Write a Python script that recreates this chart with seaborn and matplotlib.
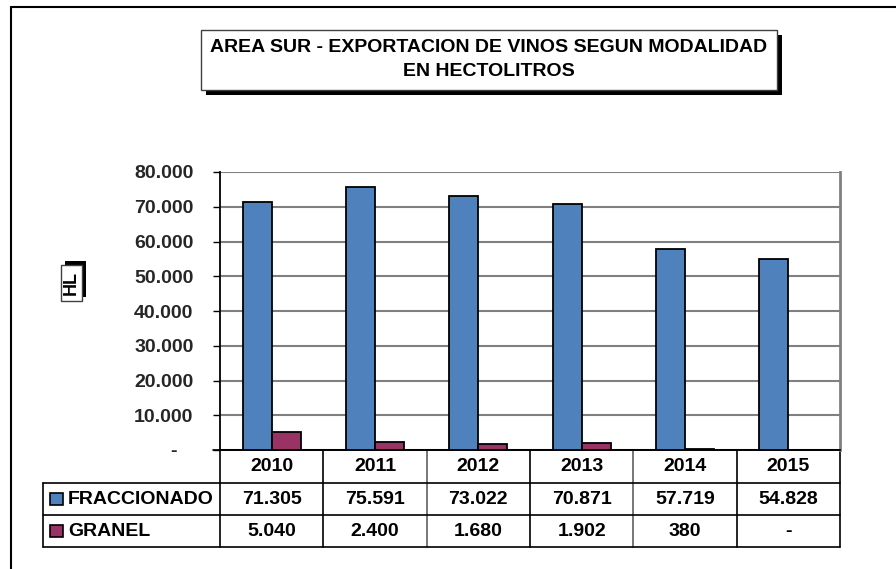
import matplotlib
matplotlib.use("Agg")
import matplotlib.pyplot as plt
import matplotlib.patches as mpatches
from matplotlib.lines import Line2D
from matplotlib.transforms import blended_transform_factory
from matplotlib.ticker import FuncFormatter
import seaborn as sns
import pandas as pd

# ---------------- data ----------------
years = ["2010", "2011", "2012", "2013", "2014", "2015"]
fraccionado = [71305, 75591, 73022, 70871, 57719, 54828]
granel = [5040, 2400, 1680, 1902, 380, 0]
series_names = ["FRACCIONADO", "GRANEL"]
series_colors = ["#4F81BD", "#993366"]
y_ticks = [0, 10000, 20000, 30000, 40000, 50000, 60000, 70000, 80000]
title_lines = ["AREA SUR - EXPORTACION DE VINOS SEGUN MODALIDAD", "EN HECTOLITROS"]
y_label = "HL"


def fmt(v):
    return "-" if v == 0 else f"{v:,.0f}".replace(",", ".")


sns.set_theme(style="white")
plt.rcParams['font.family'] = ['Liberation Sans', 'DejaVu Sans']
plt.rcParams['font.weight'] = 'bold'
FS = 14

W, H = 896, 569
fig = plt.figure(figsize=(W / 100, H / 100), dpi=100)
fig.patch.set_facecolor("white")


def fx(px):
    return px / W


def fy(py):
    return 1 - py / H


# outer frame (left and top edges visible)
fig.add_artist(Line2D([fx(11), fx(11)], [fy(7), 0], transform=fig.transFigure, color="black", lw=1.5))
fig.add_artist(Line2D([fx(11), 1], [fy(7), fy(7)], transform=fig.transFigure, color="black", lw=1.5))

# ---------------- main axes ----------------
ax_left, ax_right, ax_top, ax_bot = 220, 840, 172, 450
ax = fig.add_axes([fx(ax_left), fy(ax_bot), (ax_right - ax_left) / W, (ax_bot - ax_top) / H])

df = pd.DataFrame({
    "year": years * 2,
    "value": fraccionado + granel,
    "serie": [s for s in series_names for _ in years],
})
sns.barplot(data=df, x="year", y="value", hue="serie", palette=series_colors,
            width=0.56, edgecolor="black", linewidth=1.3, saturation=1,
            ax=ax, legend=False, zorder=3)

ax.set_xlim(-0.5, len(years) - 0.5)
ax.set_ylim(0, 80000)
ax.set_yticks(y_ticks)
ax.yaxis.set_major_formatter(FuncFormatter(lambda v, p: "-   " if v == 0 else fmt(v)))
ax.set_xticks([])
ax.set_xlabel("")
ax.set_ylabel("")
ax.yaxis.grid(True, color="#808080", lw=1.5, zorder=0)
ax.set_axisbelow(True)
ax.tick_params(axis="y", which="both", left=True, length=5, width=1, color="black",
               direction="out", labelsize=FS, pad=14)
for lbl in ax.get_yticklabels():
    lbl.set_fontweight("bold")
ax.spines["top"].set_visible(False)
ax.spines["left"].set_color("black")
ax.spines["left"].set_linewidth(1.3)
ax.spines["bottom"].set_color("black")
ax.spines["bottom"].set_linewidth(1.3)
ax.spines["right"].set_color("#808080")
ax.spines["right"].set_linewidth(2)

# ---------------- data table ----------------
trans = blended_transform_factory(ax.transData, ax.transAxes)
hax = ax_bot - ax_top
row_px = [450, 483, 515, 547]
row_fr = [-(p - ax_bot) / hax for p in row_px]
n = len(years)
col_px = (ax_right - ax_left) / n
legend_left = -0.5 + (43 - ax_left) / col_px

line_kw = dict(color="black", lw=1.2, clip_on=False, transform=trans)
for i in range(n + 1):
    ax.add_line(Line2D([i - 0.5, i - 0.5], [row_fr[0], row_fr[3]],
                       color=("#606060" if i in (2, 4) else "black"), lw=1.2,
                       clip_on=False, transform=trans))
ax.add_line(Line2D([-0.5 - 7 / col_px, n - 0.5], [row_fr[0], row_fr[0]], **line_kw))
for r in (1, 2, 3):
    ax.add_line(Line2D([legend_left, n - 0.5], [row_fr[r], row_fr[r]], **line_kw))
ax.add_line(Line2D([legend_left, legend_left], [row_fr[1], row_fr[3]], **line_kw))

mid = [(row_fr[k] + row_fr[k + 1]) / 2 for k in range(3)]
for i, yr in enumerate(years):
    ax.text(i, mid[0], yr, transform=trans, ha="center", va="center",
            fontsize=FS, fontweight="bold", color="black")
    ax.text(i, mid[1], fmt(fraccionado[i]), transform=trans, ha="center", va="center",
            fontsize=FS, fontweight="bold", color="black")
    ax.text(i, mid[2], fmt(granel[i]), transform=trans, ha="center", va="center",
            fontsize=FS, fontweight="bold", color="black")

key_centers = [499, 531]
for name, col, cy in zip(series_names, series_colors, key_centers):
    fig.add_artist(mpatches.Rectangle((fx(50), fy(cy + 6)), 13 / W, 12 / H,
                                      transform=fig.transFigure, facecolor=col,
                                      edgecolor="black", lw=1.2))
    fig.text(fx(68), fy(cy), name, ha="left", va="center", fontsize=FS,
             fontweight="bold", color="black")

# ---------------- title box with shadow ----------------
tb_l, tb_r, tb_t, tb_b = 201, 777, 30, 90
sh = 5
fig.add_artist(mpatches.Rectangle((fx(tb_l + sh), fy(tb_b + sh)), (tb_r - tb_l) / W, (tb_b - tb_t) / H,
                                  transform=fig.transFigure, facecolor="black", edgecolor="black", lw=0))
fig.add_artist(mpatches.Rectangle((fx(tb_l), fy(tb_b)), (tb_r - tb_l) / W, (tb_b - tb_t) / H,
                                  transform=fig.transFigure, facecolor="white", edgecolor="#404040", lw=1))
fig.text(fx((tb_l + tb_r) / 2), fy(47), title_lines[0], ha="center", va="center",
         fontsize=FS, fontweight="bold", color="black")
fig.text(fx((tb_l + tb_r) / 2), fy(72), title_lines[1], ha="center", va="center",
         fontsize=FS, fontweight="bold", color="black")

# ---------------- y label box with shadow ----------------
hb_l, hb_r, hb_t, hb_b = 61, 82, 265, 301
fig.add_artist(mpatches.Rectangle((fx(hb_l + 4), fy(hb_b - 4)), (hb_r - hb_l) / W, (hb_b - hb_t) / H,
                                  transform=fig.transFigure, facecolor="black", lw=0))
fig.add_artist(mpatches.Rectangle((fx(hb_l), fy(hb_b)), (hb_r - hb_l) / W, (hb_b - hb_t) / H,
                                  transform=fig.transFigure, facecolor="white", edgecolor="#404040", lw=1))
fig.text(fx((hb_l + hb_r) / 2), fy((hb_t + hb_b) / 2), y_label, rotation=90,
         ha="center", va="center", fontsize=13, fontweight="bold", color="black")

fig.savefig("out.png", dpi=100, facecolor="white")
